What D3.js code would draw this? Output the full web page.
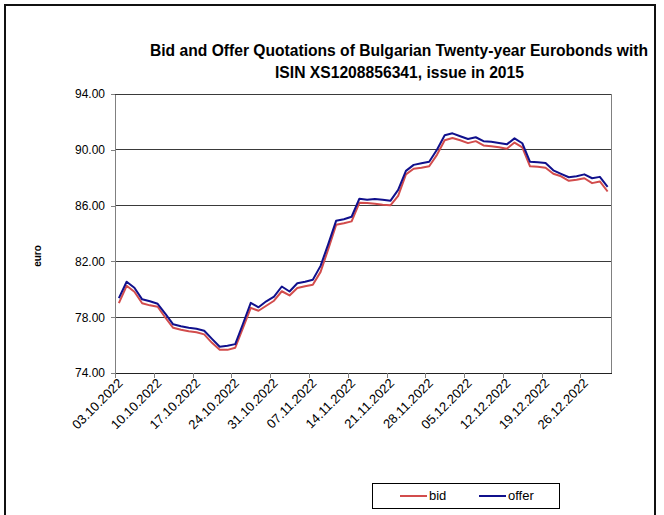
<!DOCTYPE html>
<html><head><meta charset="utf-8">
<script src="https://cdn.jsdelivr.net/npm/d3@7"></script>
<style>
html,body{margin:0;padding:0;background:#fff;}
svg{display:block;font-family:"Liberation Sans",Arial,sans-serif;}
</style></head>
<body>
<svg id="chart" width="664" height="515"></svg>
<script>
const categories = [
 "03.10.2022","04.10.2022","05.10.2022","06.10.2022","07.10.2022",
 "10.10.2022","11.10.2022","12.10.2022","13.10.2022","14.10.2022",
 "17.10.2022","18.10.2022","19.10.2022","20.10.2022","21.10.2022",
 "24.10.2022","25.10.2022","26.10.2022","27.10.2022","28.10.2022",
 "31.10.2022","01.11.2022","02.11.2022","03.11.2022","04.11.2022",
 "07.11.2022","08.11.2022","09.11.2022","10.11.2022","11.11.2022",
 "14.11.2022","15.11.2022","16.11.2022","17.11.2022","18.11.2022",
 "21.11.2022","22.11.2022","23.11.2022","24.11.2022","25.11.2022",
 "28.11.2022","29.11.2022","30.11.2022","01.12.2022","02.12.2022",
 "05.12.2022","06.12.2022","07.12.2022","08.12.2022","09.12.2022",
 "12.12.2022","13.12.2022","14.12.2022","15.12.2022","16.12.2022",
 "19.12.2022","20.12.2022","21.12.2022","22.12.2022","23.12.2022",
 "26.12.2022","27.12.2022","28.12.2022","29.12.2022"
];
const bid = [
 79.01,80.25,79.82,79.00,78.85,78.75,77.96,77.24,77.10,76.99,
 76.92,76.77,76.16,75.66,75.66,75.81,77.24,78.67,78.46,78.82,
 79.18,79.86,79.56,80.09,80.22,80.32,81.25,82.90,84.62,84.73,
 84.87,86.20,86.18,86.13,86.06,86.02,86.70,88.24,88.64,88.71,
 88.82,89.64,90.68,90.84,90.68,90.48,90.62,90.31,90.25,90.18,
 90.07,90.52,90.18,88.82,88.78,88.71,88.28,88.10,87.78,87.85,
 87.96,87.61,87.73,87.01
];
const offer = [
 79.37,80.54,80.11,79.28,79.14,78.96,78.24,77.49,77.35,77.24,
 77.17,77.03,76.45,75.88,75.95,76.07,77.53,79.03,78.71,79.14,
 79.48,80.20,79.84,80.43,80.54,80.68,81.68,83.26,84.91,85.02,
 85.20,86.49,86.42,86.47,86.42,86.34,87.13,88.49,88.92,89.03,
 89.14,90.00,91.04,91.18,90.97,90.77,90.90,90.62,90.57,90.48,
 90.39,90.82,90.47,89.14,89.10,89.05,88.53,88.28,88.03,88.11,
 88.24,87.96,88.06,87.35
];
const yTicks = [74,78,82,86,90,94];
const xTickLabels = ["03.10.2022","10.10.2022","17.10.2022","24.10.2022","31.10.2022","07.11.2022","14.11.2022","21.11.2022","28.11.2022","05.12.2022","12.12.2022","19.12.2022","26.12.2022"];
const titleLines = ["Bid and Offer Quotations of Bulgarian Twenty-year Eurobonds with","ISIN  XS1208856341, issue in 2015"];
const seriesNames = ["bid","offer"];
const seriesColors = ["#d24c4c","#10108c"];

const svg = d3.select("#chart");
svg.append("rect").attr("width",664).attr("height",515).attr("fill","#fff");
// outer frame
svg.append("rect").attr("x",5).attr("y",5).attr("width",650).attr("height",530)
  .attr("fill","none").attr("stroke","#111").attr("stroke-width",2);

const L=115, R=611.5, T=94, B=373;
const x = d3.scaleLinear().domain([0,categories.length]).range([L,R]);
const y = d3.scaleLinear().domain([74,94]).range([B,T]);

// title
const tl = svg.append("g").attr("font-weight","bold").attr("font-size",16).attr("fill","#000")
  .attr("font-family","'Liberation Sans Narrow','Arial Narrow','Liberation Sans',Arial,sans-serif");
tl.append("text").attr("x",150).attr("y",56).attr("textLength",498).attr("lengthAdjust","spacingAndGlyphs").text(titleLines[0]);
tl.append("text").attr("x",275).attr("y",78).attr("textLength",249).attr("lengthAdjust","spacingAndGlyphs").text(titleLines[1]);

// gridlines
svg.append("g").selectAll("line").data(yTicks.filter(d=>d>74)).join("line")
  .attr("x1",L).attr("x2",R).attr("y1",d=>y(d)).attr("y2",d=>y(d))
  .attr("stroke","#3a3a3a").attr("stroke-width",1).attr("shape-rendering","crispEdges");
// right border
svg.append("line").attr("x1",R).attr("x2",R).attr("y1",T).attr("y2",B)
  .attr("stroke","#808080").attr("stroke-width",1).attr("shape-rendering","crispEdges");

// y axis
const yAxis = svg.append("g").attr("transform",`translate(${L},0)`)
  .call(d3.axisLeft(y).tickValues(yTicks).tickFormat(d3.format(".2f")).tickSize(4).tickSizeOuter(0).tickPadding(6));
yAxis.select(".domain").attr("stroke","#808080").attr("shape-rendering","crispEdges");
yAxis.selectAll(".tick line").attr("stroke","#808080").attr("shape-rendering","crispEdges");
yAxis.selectAll("text").attr("font-size",12).attr("fill","#000").attr("font-family","Liberation Sans, Arial, sans-serif");

// x axis
const tickIdx = xTickLabels.map(l=>categories.indexOf(l));
const xAxis = svg.append("g").attr("transform",`translate(0,${B})`)
  .call(d3.axisBottom(x).tickValues(tickIdx).tickFormat(i=>categories[i]).tickSize(5).tickSizeOuter(0));
xAxis.select(".domain").attr("stroke","#222").attr("shape-rendering","crispEdges");
xAxis.selectAll(".tick line").attr("stroke","#808080").attr("shape-rendering","crispEdges");
xAxis.selectAll("text").attr("font-size",13).attr("fill","#000")
  .attr("font-family","Liberation Sans, Arial, sans-serif")
  .attr("text-anchor","end").attr("dy",null).attr("y",null)
  .attr("transform","translate(8,11) rotate(-45)");

// y title
svg.append("text").attr("transform","translate(41,256) rotate(-90)")
  .attr("text-anchor","middle").attr("font-size",10).attr("font-weight","bold").text("euro");

// lines
const line = d3.line().x((d,i)=>x(i+0.5)).y(d=>y(d));
[bid,offer].forEach((s,k)=>{
  svg.append("path").datum(s).attr("d",line).attr("fill","none")
    .attr("stroke",seriesColors[k]).attr("stroke-width",2).attr("stroke-linejoin","round");
});

// legend
const lg = svg.append("g");
lg.append("rect").attr("x",372).attr("y",483).attr("width",187).attr("height",25)
  .attr("fill","#fff").attr("stroke","#000").attr("stroke-width",1).attr("shape-rendering","crispEdges");
const lx = [400,479];
seriesNames.forEach((n,k)=>{
  lg.append("line").attr("x1",lx[k]).attr("x2",lx[k]+27).attr("y1",496).attr("y2",496)
    .attr("stroke",seriesColors[k]).attr("stroke-width",2);
  lg.append("text").attr("x",lx[k]+29).attr("y",500).attr("font-size",13).text(n);
});
</script>
</body></html>
